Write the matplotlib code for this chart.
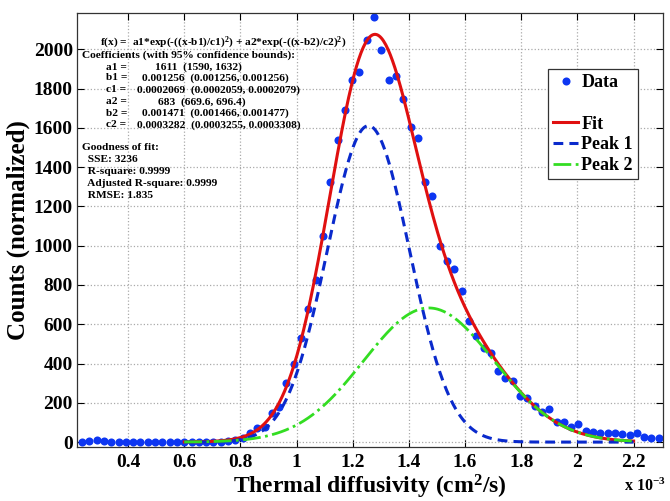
import matplotlib
matplotlib.use('Agg')
import matplotlib.pyplot as plt
import numpy as np

plt.rcParams['font.family'] = ['Liberation Serif', 'DejaVu Serif']
plt.rcParams['font.weight'] = 'bold'
plt.rcParams['mathtext.fontset'] = 'custom'
plt.rcParams['mathtext.rm'] = 'Liberation Serif:bold'
plt.rcParams['mathtext.it'] = 'Liberation Serif:bold'
plt.rcParams['mathtext.bf'] = 'Liberation Serif:bold'

# histogram bin centres (x 10^-3 cm^2/s) and normalized counts
diffusivity = [0.236, 0.262, 0.288, 0.314, 0.340, 0.366, 0.392, 0.418, 0.444, 0.470,
               0.496, 0.522, 0.548, 0.574, 0.600, 0.626, 0.652, 0.678, 0.704, 0.730,
               0.756, 0.782, 0.808, 0.834, 0.860, 0.886, 0.912, 0.938, 0.964, 0.990,
               1.016, 1.042, 1.068, 1.094, 1.120, 1.146, 1.172, 1.198, 1.224, 1.250,
               1.276, 1.302, 1.328, 1.354, 1.380, 1.406, 1.432, 1.458, 1.484, 1.510,
               1.536, 1.562, 1.588, 1.614, 1.640, 1.666, 1.692, 1.718, 1.744, 1.770,
               1.796, 1.822, 1.848, 1.874, 1.900, 1.926, 1.952, 1.978, 2.004, 2.030,
               2.056, 2.082, 2.108, 2.134, 2.160, 2.186, 2.212, 2.238, 2.264, 2.290]
counts = [2, 7, 10, 5, 2, 1, 1, 1, 1, 1,
          1, 1, 1, 1, 1, 2, 0, 1, 2, 1,
          5, 12, 20, 48, 70, 75, 150, 177, 302, 400,
          528, 680, 824, 1050, 1325, 1537, 1690, 1842, 1885, 2046,
          2165, 1998, 1842, 1863, 1749, 1605, 1551, 1325, 1252, 999,
          921, 880, 770, 616, 541, 480, 454, 363, 324, 313,
          234, 222, 183, 154, 171, 103, 100, 78, 92, 58,
          51, 47, 47, 47, 39, 34, 44, 24, 19, 22]

# two-term gaussian fit coefficients
a1, b1, c1 = 1611, 0.001256, 0.0002069
a2, b2, c2 = 683, 0.001471, 0.0003282
fit_range = [0.6, 2.2]

fit_lines = [
    ('f(x) =  a1*exp(-((x-b1)/c1)$^{2}$) + a2*exp(-((x-b2)/c2)$^{2}$)', 100, 43),
    ('Coefficients (with 95% confidence bounds):', 82, 55),
]
coef_rows = [
    ('a1 =', '1611  (1590, 1632)', 155, 67),
    ('b1 =', '0.001256  (0.001256, 0.001256)', 142, 78),
    ('c1 =', '0.0002069  (0.0002059, 0.0002079)', 137, 90),
    ('a2 =', '683  (669.6, 696.4)', 158, 102),
    ('b2 =', '0.001471  (0.001466, 0.001477)', 142, 113),
    ('c2 =', '0.0003282  (0.0003255, 0.0003308)', 137, 125),
]
gof_lines = [
    ('Goodness of fit:', 82, 148),
    ('  SSE: 3236', 82, 160),
    ('  R-square: 0.9999', 82, 172),
    ('  Adjusted R-square: 0.9999', 82, 184),
    ('  RMSE: 1.835', 82, 195),
]

W, H = 670, 501
fig = plt.figure(figsize=(W / 100.0, H / 100.0), dpi=100)
ax = fig.add_axes([77.0 / W, 1 - 447.0 / H, 586.0 / W, 434.0 / H])

xf = np.linspace(fit_range[0], fit_range[1], 400)
peak1 = a1 * np.exp(-((xf * 1e-3 - b1) / c1) ** 2)
peak2 = a2 * np.exp(-((xf * 1e-3 - b2) / c2) ** 2)

hd, = ax.plot(diffusivity, counts, 'o', color='#0d36f2', markersize=5.8,
              markeredgewidth=0, zorder=2)
hf, = ax.plot(xf, peak1 + peak2, '-', color='#e01010', lw=2.2, zorder=3)
hp1, = ax.plot(xf, peak1, '--', color='#0a2acc', lw=2.2, dashes=(3.2, 2), zorder=3)
hp2, = ax.plot(xf, peak2, '-.', color='#33dd22', lw=2.0, zorder=3)
blank, = ax.plot([], [], ' ')

ax.set_xlim(0.218, 2.305)
ax.set_ylim(-25, 2185)
ax.set_xticks(np.arange(0.4, 2.21, 0.2))
ax.set_xticklabels(['0.4', '0.6', '0.8', '1', '1.2', '1.4', '1.6', '1.8', '2', '2.2'])
ax.set_yticks(np.arange(0, 2001, 200))
ax.grid(True, linestyle=':', color='#aaaaaa', linewidth=0.9)
ax.tick_params(direction='in', top=True, right=True, length=5, width=0.8,
               labelsize=14, pad=5)
ax.tick_params(axis='y', pad=3)
for lab in ax.get_xticklabels() + ax.get_yticklabels():
    lab.set_fontweight('bold')
for sp in ax.spines.values():
    sp.set_color('#333333')
    sp.set_linewidth(0.9)

ax.set_xlabel('Thermal diffusivity (cm$^{2}$/s)', fontsize=17, fontweight='bold', labelpad=1)
ax.set_ylabel('Counts (normalized)', fontsize=18, fontweight='bold', labelpad=3)
fig.text(645.0 / W, 1 - 491.0 / H, 'x 10$^{-3}$', fontsize=11.5, fontweight='bold',
         ha='center', va='baseline')

leg = ax.legend([hd, blank, hf, hp1, hp2], ['Data', ' ', 'Fit', 'Peak 1', 'Peak 2'],
                loc='upper left', bbox_to_anchor=((548.0 - 77) / 586, (447.0 - 69) / 434),
                borderaxespad=0, fontsize=13, handlelength=1.35, handletextpad=0.2,
                labelspacing=0.2, borderpad=0.3, fancybox=False, framealpha=1,
                edgecolor='#333333')
leg.get_frame().set_linewidth(0.9)
for t in leg.get_texts():
    t.set_fontweight('bold')

fs = 8.2
for txt, px, py in fit_lines + gof_lines:
    fig.text(px / W, 1 - py / H, txt, fontsize=fs, fontweight='bold', va='center')
for name, val, px, py in coef_rows:
    fig.text(106.0 / W, 1 - py / H, name, fontsize=fs, fontweight='bold', va='center')
    fig.text(px / W, 1 - py / H, val, fontsize=fs, fontweight='bold', va='center')

fig.savefig('out.png', dpi=100)
plt.close('all')
